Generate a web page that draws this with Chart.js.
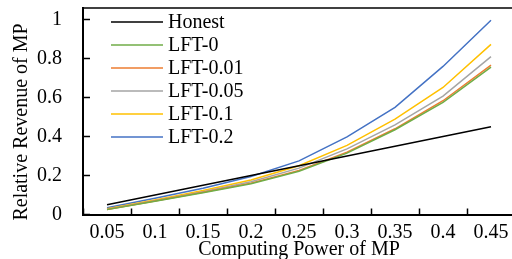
<!DOCTYPE html>
<html>
<head>
<meta charset="utf-8">
<script src="https://cdn.jsdelivr.net/npm/chart.js@4/dist/chart.umd.min.js"></script>
<style>
  html, body { margin: 0; padding: 0; background: #fff; overflow: hidden; }
  #wrap { width: 515px; height: 259px; }
</style>
</head>
<body>
<div id="wrap"><canvas id="myChart"></canvas></div>
<script>
// data
const powerLabels = ["0.05", "0.1", "0.15", "0.2", "0.25", "0.3", "0.35", "0.4", "0.45"];
const yTicks = [0, 0.2, 0.4, 0.6, 0.8, 1];

const honest = [0.05, 0.1, 0.15, 0.2, 0.25, 0.3, 0.35, 0.4, 0.45];
const lft0 = [0.025, 0.068, 0.112, 0.158, 0.222, 0.315, 0.435, 0.576, 0.757];
const lft001 = [0.026, 0.069, 0.114, 0.161, 0.226, 0.32, 0.44, 0.584, 0.767];
const lft005 = [0.027, 0.071, 0.117, 0.168, 0.238, 0.337, 0.46, 0.608, 0.81];
const lft01 = [0.029, 0.075, 0.123, 0.177, 0.25, 0.355, 0.49, 0.652, 0.873];
const lft02 = [0.035, 0.083, 0.135, 0.195, 0.275, 0.398, 0.55, 0.76, 0.997];

const fontName = "'Liberation Serif', 'Times New Roman', serif";

function line(label, data, color) {
    return {
        label: label,
        data: data,
        borderColor: color,
        backgroundColor: color,
        borderWidth: 1.5,
        pointRadius: 0,
        tension: 0,
        fill: false
    };
}

// legend, top border and y title drawn on the canvas
const extras = {
    id: "extras",
    afterDraw(chart) {
        const ctx = chart.ctx;
        const area = chart.chartArea;
        ctx.save();
        // top frame line
        ctx.strokeStyle = "#000";
        ctx.lineWidth = 1.5;
        ctx.beginPath();
        ctx.moveTo(area.left, area.top);
        ctx.lineTo(area.right, area.top);
        ctx.stroke();

        // legend
        ctx.font = "20px " + fontName;
        ctx.textBaseline = "middle";
        ctx.textAlign = "left";
        chart.data.datasets.forEach((ds, i) => {
            const y = 22 + i * 23;
            ctx.strokeStyle = ds.borderColor;
            ctx.lineWidth = 1.5;
            ctx.beginPath();
            ctx.moveTo(111, y);
            ctx.lineTo(163, y);
            ctx.stroke();
            ctx.fillStyle = "#000";
            ctx.fillText(ds.label, 168, y + 1);
        });

        // y axis title
        ctx.translate(21, 122);
        ctx.rotate(-Math.PI / 2);
        ctx.textAlign = "center";
        ctx.fillText("Relative Revenue of MP", 0, 1);
        ctx.restore();
    }
};

new Chart("myChart", {
    type: "line",
    data: {
        labels: powerLabels,
        datasets: [
            line("Honest", honest, "#000000"),
            line("LFT-0", lft0, "#70AD47"),
            line("LFT-0.01", lft001, "#ED7D31"),
            line("LFT-0.05", lft005, "#A5A5A5"),
            line("LFT-0.1", lft01, "#FFC000"),
            line("LFT-0.2", lft02, "#4472C4")
        ]
    },
    options: {
        responsive: true,
        maintainAspectRatio: false,
        animation: false,
        layout: { padding: { top: 8, right: 0, left: 0, bottom: 0 } },
        plugins: {
            legend: { display: false },
            tooltip: { enabled: false }
        },
        scales: {
            x: {
                offset: true,
                grid: {
                    offset: true,
                    drawOnChartArea: false,
                    drawTicks: true,
                    tickLength: -6,
                    tickWidth: 1.5,
                    tickColor: "#000"
                },
                border: { display: true, color: "#000", width: 2 },
                ticks: {
                    color: "#000",
                    font: { family: fontName, size: 20 },
                    padding: 12,
                    maxRotation: 0,
                    autoSkip: false
                },
                title: {
                    display: true,
                    text: "Computing Power of MP",
                    color: "#000",
                    font: { family: fontName, size: 20, lineHeight: 1 },
                    padding: { top: 0, bottom: -1 }
                },
                afterFit(scale) {
                    scale.height = 44.5;
                    scale.paddingLeft = 0;
                    scale.paddingRight = 0;
                }
            },
            y: {
                min: 0,
                max: 1.06,
                grid: {
                    drawOnChartArea: false,
                    drawTicks: true,
                    tickLength: -7,
                    tickWidth: 1.5,
                    tickColor: "#000"
                },
                border: { display: true, color: "#000", width: 2 },
                ticks: {
                    color: "#000",
                    font: { family: fontName, size: 20 },
                    padding: 28,
                    callback: (v) => String(Math.round(v * 10) / 10)
                },
                afterBuildTicks(scale) {
                    scale.ticks = yTicks.map(v => ({ value: v }));
                },
                afterFit(scale) {
                    scale.width = 83;
                    scale.paddingTop = 0;
                    scale.paddingBottom = 0;
                }
            }
        }
    },
    plugins: [extras]
});
</script>
</body>
</html>
